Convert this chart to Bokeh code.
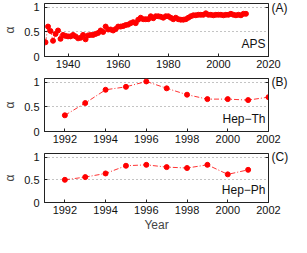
from bokeh.plotting import figure
from bokeh.layouts import column
from bokeh.models import Range1d, FixedTicker, LinearAxis, Label
from bokeh.embed import file_html
from bokeh.resources import INLINE

FONT = "Liberation Sans"

aps_years = list(range(1931, 2012))
aps_alpha = [0.29, 0.61, 0.52, 0.32, 0.46, 0.53, 0.36, 0.44, 0.42, 0.41,
             0.41, 0.44, 0.41, 0.37, 0.38, 0.44, 0.35, 0.43, 0.44, 0.44,
             0.46, 0.48, 0.53, 0.50, 0.61, 0.55, 0.55, 0.53, 0.56, 0.61,
             0.61, 0.62, 0.64, 0.65, 0.68, 0.70, 0.68, 0.75, 0.79, 0.76,
             0.76, 0.76, 0.82, 0.78, 0.82, 0.82, 0.81, 0.79, 0.82, 0.82,
             0.79, 0.76, 0.79, 0.76, 0.75, 0.75, 0.76, 0.79, 0.82, 0.84,
             0.84, 0.85, 0.85, 0.85, 0.88, 0.85, 0.85, 0.84, 0.85, 0.85,
             0.85, 0.84, 0.85, 0.85, 0.87, 0.85, 0.84, 0.85, 0.84, 0.87,
             0.87]

hepth_years = [1992, 1993, 1994, 1995, 1996, 1997, 1998, 1999, 2000, 2001, 2002]
hepth_alpha = [0.33, 0.58, 0.85, 0.91, 1.02, 0.88, 0.75, 0.66, 0.66, 0.64, 0.70]

hepph_years = [1992, 1993, 1994, 1995, 1996, 1997, 1998, 1999, 2000, 2001]
hepph_alpha = [0.50, 0.56, 0.64, 0.81, 0.83, 0.78, 0.76, 0.83, 0.62, 0.72]

y_ticks = [0, 0.5, 1]
aps_xticks = [1940, 1960, 1980, 2000, 2020]
hep_xticks = [1992, 1994, 1996, 1998, 2000, 2002]

W = 291
BOX_H = 53


def make_panel(xs, ys, xr, xticks, name, tag, top, bottom, xlabel=None):
    p = figure(width=W, height=top + BOX_H + bottom, output_backend="svg",
               toolbar_location=None, x_range=Range1d(*xr), y_range=Range1d(0, 1.08),
               min_border_left=28, min_border_right=4, min_border_top=top,
               min_border_bottom=bottom)
    p.background_fill_color = "white"
    p.outline_line_color = "#222222"
    p.outline_line_width = 1
    p.xgrid.visible = False
    p.ygrid.ticker = FixedTicker(ticks=[0.5, 1])
    p.ygrid.grid_line_color = "#888888"
    p.ygrid.grid_line_dash = "1 3"
    p.ygrid.grid_line_width = 1

    # right axis carries the panel tag, like the reference's "(A)" beside the box
    right_ax = LinearAxis(ticker=FixedTicker(ticks=[1]), major_tick_in=3, major_tick_out=0,
                          major_label_overrides={1: tag}, major_label_standoff=3,
                          minor_tick_line_color=None, axis_line_color="#222222")
    p.add_layout(right_ax, "right")

    for ax in (p.xaxis[0], p.yaxis[0], right_ax):
        ax.axis_line_color = "#222222"
        ax.major_tick_in = 3
        ax.major_tick_out = 0
        ax.minor_tick_line_color = None
        ax.major_tick_line_color = "#222222"
        ax.major_label_text_font = FONT
        ax.major_label_text_font_size = "11px"
        ax.major_label_text_color = "#111111"
        ax.axis_label_text_font = FONT
        ax.axis_label_text_font_size = "12px"
        ax.axis_label_text_font_style = "normal"
    right_ax.major_label_text_font_size = "12px"
    right_ax.major_label_orientation = "horizontal"

    p.xaxis[0].ticker = FixedTicker(ticks=xticks)
    p.yaxis[0].ticker = FixedTicker(ticks=y_ticks)
    p.yaxis[0].major_label_overrides = {0: "0", 0.5: "0.5", 1: "1"}
    p.yaxis[0].axis_label = "α"
    p.yaxis[0].axis_label_standoff = 4
    p.xaxis[0].major_label_standoff = 3
    if xlabel:
        p.xaxis[0].axis_label = xlabel
        p.xaxis[0].axis_label_standoff = 1

    p.line(xs, ys, line_color="red", line_width=0.8, line_dash="5 2 1 2")
    p.scatter(xs, ys, size=5, fill_color="red", line_color="red")

    p.add_layout(Label(x=xr[1], y=0.12, text=name, text_align="right",
                       text_baseline="bottom", x_offset=-3, text_font=FONT,
                       text_font_size="12px", text_color="#111111",
                       background_fill_color="white"))
    return p


pa = make_panel(aps_years, aps_alpha, (1930.6, 2020), aps_xticks, "APS", "(A)", 3, 17)
pb = make_panel(hepth_years, hepth_alpha, (1991, 2002), hep_xticks, "Hep\u2212Th", "(B)", 5, 17)
pc = make_panel(hepph_years, hepph_alpha, (1991, 2002), hep_xticks, "Hep\u2212Ph", "(C)", 5, 28, xlabel="Year")

layout = column(pa, pb, pc, spacing=0)

open("out.html", "w").write(file_html(layout, INLINE))
